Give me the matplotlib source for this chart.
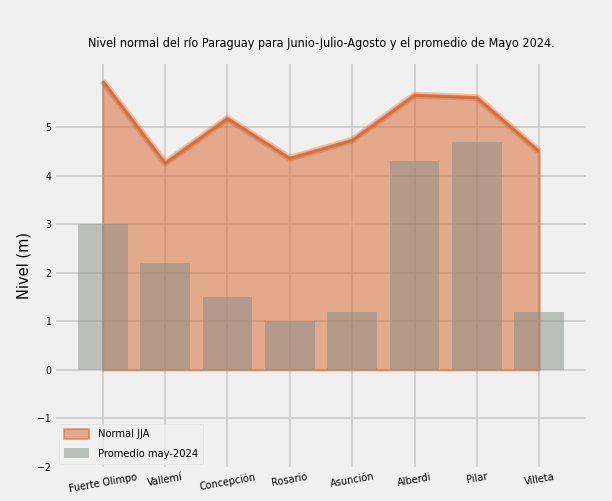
import matplotlib
matplotlib.use("Agg")
import matplotlib.pyplot as plt
import numpy as np

plt.style.use("fivethirtyeight")
plt.rcParams["font.family"] = ["DejaVu Sans"]
plt.rcParams["font.stretch"] = "condensed"

estaciones = ["Fuerte Olimpo", "Vallemí", "Concepción", "Rosario", "Asunción", "Alberdi", "Pilar", "Villeta"]
normal_jja = [5.95, 4.26, 5.18, 4.36, 4.73, 5.66, 5.61, 4.50]
promedio_may = [3.0, 2.2, 1.5, 1.0, 1.2, 4.3, 4.7, 1.2]
yticks = [-2, -1, 0, 1, 2, 3, 4, 5]

fig = plt.figure(figsize=(6.12, 5.01), dpi=100)
fig.patch.set_facecolor("#f0f0f0")
ax = fig.add_axes([0.0915, 0.068, 0.866, 0.804])
ax.set_facecolor("#f0f0f0")

x = np.arange(len(estaciones))
fill_color = "#d5642a"
ax.fill_between(x, normal_jja, 0, color=fill_color, alpha=0.5, linewidth=1.5,
                label="Normal JJA", zorder=2)
ax.plot(x, normal_jja, color=fill_color, linewidth=5, alpha=0.35, zorder=3,
        solid_capstyle="butt")
ax.plot(x, normal_jja, color="#d86a35", linewidth=2.2, alpha=0.85, zorder=3)
ax.bar(x, promedio_may, width=0.8, color="#878f87", alpha=0.5,
       label="Promedio may-2024", zorder=4)

ax.set_xlim(-0.75, 7.75)
ax.set_ylim(-2, 6.3)
ax.set_yticks(yticks)
ax.set_xticks(x)
ax.set_xticklabels(estaciones, rotation=10, fontsize=7.8)
ax.tick_params(axis="y", labelsize=7.5)
ax.grid(True, color="#cbcbcb", linewidth=1.2)
ax.yaxis.get_gridlines()[0].set_visible(False)
for s in ax.spines.values():
    s.set_visible(False)

ax.set_ylabel("Nivel (m)", fontsize=10.5, fontstretch="normal")
ax.set_title("Nivel normal del río Paraguay para Junio-Julio-Agosto y el promedio de Mayo 2024.",
             fontsize=9, pad=12)
ax.legend(loc="lower left", fontsize=8, frameon=True, facecolor="#f0f0f0",
          edgecolor="#dddddd", framealpha=0.8, borderaxespad=0.3,
          labelspacing=0.75, borderpad=0.45, handleheight=1.0, handlelength=2.2)

fig.savefig("out.png", dpi=100, facecolor=fig.get_facecolor())
